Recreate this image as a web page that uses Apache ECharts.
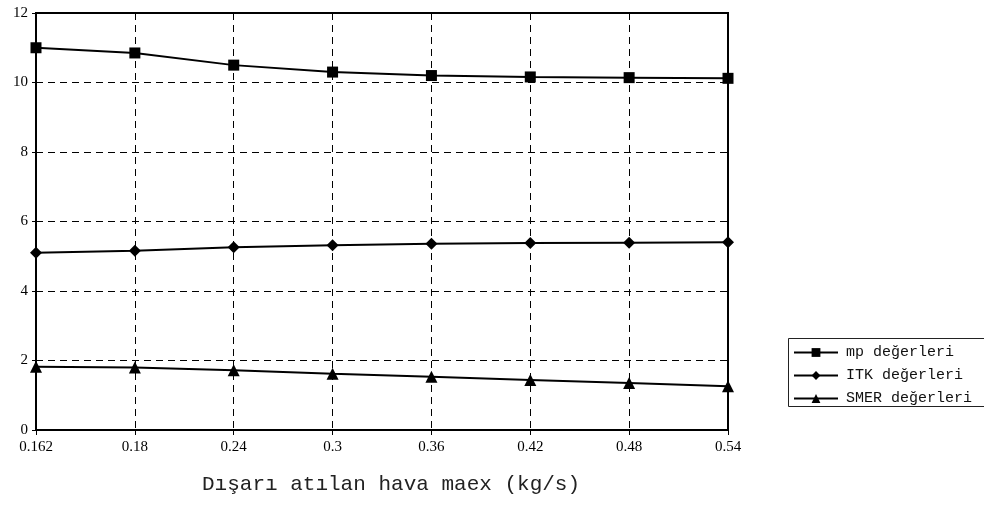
<!DOCTYPE html>
<html>
<head>
<meta charset="utf-8">
<script src="https://cdn.jsdelivr.net/npm/echarts@6/dist/echarts.min.js"></script>
<style>
  html, body { margin: 0; padding: 0; background: #fff; }
  #chart { width: 984px; height: 517px; }
</style>
</head>
<body>
<div id="chart"></div>
<script>
// Air flow rate categories (kg/s)
const categories = ['0.162', '0.18', '0.24', '0.3', '0.36', '0.42', '0.48', '0.54'];

// Series values
const mpValues   = [11.0, 10.85, 10.5, 10.3, 10.2, 10.16, 10.14, 10.12];
const itkValues  = [5.1, 5.16, 5.26, 5.32, 5.36, 5.38, 5.39, 5.4];
const smerValues = [1.82, 1.8, 1.72, 1.62, 1.53, 1.44, 1.35, 1.26];

const seriesNames = ['mp değerleri', 'ITK değerleri', 'SMER değerleri'];
const axisTitle = 'Dışarı atılan hava maex (kg/s)';

const chart = echarts.init(document.getElementById('chart'), null, { renderer: 'canvas' });

const serifFont = '"Liberation Serif", "Times New Roman", serif';
const monoFont = '"Liberation Mono", "Courier New", monospace';

function lineSeries(name, data, symbol, size) {
  return {
    name: name,
    type: 'line',
    data: data,
    symbol: symbol,
    symbolSize: size,
    showAllSymbol: true,
    lineStyle: { color: '#000', width: 2 },
    itemStyle: { color: '#000' },
    emphasis: { disabled: true },
    z: 5
  };
}

chart.setOption({
  animation: false,
  backgroundColor: '#fff',
  grid: {
    left: 36, right: 256, top: 13, bottom: 87,
    show: true, borderColor: '#000', borderWidth: 2, backgroundColor: 'transparent'
  },
  xAxis: {
    type: 'category',
    data: categories,
    boundaryGap: false,
    axisLine: { lineStyle: { color: '#000', width: 2 } },
    axisTick: { show: true, alignWithLabel: true, length: 5, lineStyle: { color: '#000', width: 1 } },
    axisLabel: { color: '#000', fontFamily: serifFont, fontSize: 15, margin: 10 },
    splitLine: { show: true, lineStyle: { color: '#000', width: 1, type: [7, 5] } }
  },
  yAxis: {
    type: 'value',
    min: 0, max: 12, interval: 2,
    axisLine: { show: true, lineStyle: { color: '#000', width: 2 } },
    axisTick: { show: true, length: 4, lineStyle: { color: '#000', width: 1 } },
    axisLabel: { color: '#000', fontFamily: serifFont, fontSize: 15, margin: 8 },
    splitLine: { show: true, lineStyle: { color: '#000', width: 1, type: [7, 5] } }
  },
  legend: {
    orient: 'vertical',
    left: 793, top: 345,
    padding: 0,
    itemWidth: 44, itemHeight: 11,
    itemGap: 8,
    selectedMode: false,
    lineStyle: { width: 2, color: '#000' },
    textStyle: { color: '#111', fontFamily: monoFont, fontSize: 15, padding: [0, 0, 0, 3] },
    data: seriesNames
  },
  graphic: [
    {
      type: 'rect',
      shape: { x: 788.5, y: 338.5, width: 210, height: 68 },
      style: { fill: 'none', stroke: '#222', lineWidth: 1 },
      silent: true, z: 1
    },
    {
      type: 'text',
      left: 202, top: 474,
      style: { text: axisTitle, fill: '#222', font: '21px ' + monoFont },
      silent: true
    }
  ],
  series: [
    lineSeries(seriesNames[0], mpValues, 'rect', 11),
    lineSeries(seriesNames[1], itkValues, 'diamond', 12),
    lineSeries(seriesNames[2], smerValues, 'triangle', 12)
  ]
});
</script>
</body>
</html>
